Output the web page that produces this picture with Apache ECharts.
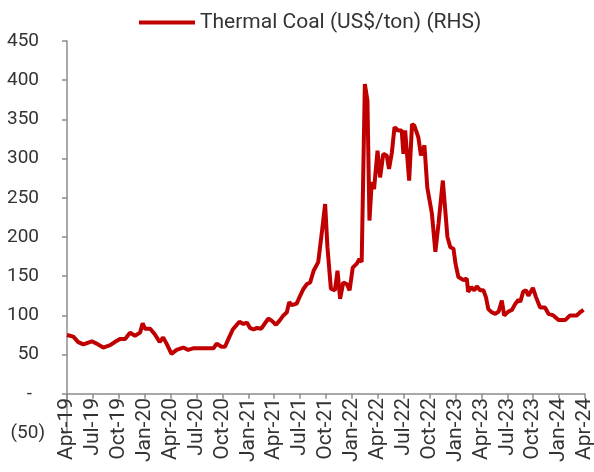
<!DOCTYPE html>
<html>
<head>
<meta charset="utf-8">
<script src="https://cdn.jsdelivr.net/npm/echarts@6/dist/echarts.min.js"></script>
<style>
  html, body { margin: 0; padding: 0; background: #fff; }
  #chart { width: 594px; height: 472px; }
</style>
</head>
<body>
<div id="chart"></div>
<script>
// weekly-ish readings of thermal coal price (US$/ton)
const dates = [
  '2019-04-01', '2019-04-23', '2019-05-10', '2019-05-28', '2019-06-27', '2019-07-14', '2019-08-07', '2019-08-31',
  '2019-09-17', '2019-10-05', '2019-10-23', '2019-11-10', '2019-11-27', '2019-12-15', '2019-12-24', '2020-01-02',
  '2020-01-20', '2020-02-06', '2020-02-23', '2020-03-05', '2020-03-17', '2020-04-04', '2020-04-22', '2020-05-15',
  '2020-06-02', '2020-06-19', '2020-08-30', '2020-09-11', '2020-09-28', '2020-10-10', '2020-10-22', '2020-11-07',
  '2020-11-30', '2020-12-14', '2020-12-26', '2021-01-07', '2021-01-19', '2021-01-31', '2021-02-16', '2021-02-27',
  '2021-03-11', '2021-03-23', '2021-04-07', '2021-04-21', '2021-05-03', '2021-05-15', '2021-05-23', '2021-06-02',
  '2021-06-19', '2021-07-01', '2021-07-13', '2021-07-25', '2021-08-06', '2021-08-18', '2021-09-04', '2021-09-16',
  '2021-09-28', '2021-10-06', '2021-10-18', '2021-11-02', '2021-11-11', '2021-11-20', '2021-12-01', '2021-12-13',
  '2021-12-23', '2022-01-04', '2022-01-18', '2022-01-27', '2022-02-05', '2022-02-16', '2022-02-25', '2022-03-02',
  '2022-03-10', '2022-03-18', '2022-03-30', '2022-04-09', '2022-04-20', '2022-05-02', '2022-05-10', '2022-05-20',
  '2022-05-29', '2022-06-12', '2022-06-24', '2022-06-30', '2022-07-06', '2022-07-20', '2022-07-30', '2022-08-08',
  '2022-08-22', '2022-08-31', '2022-09-13', '2022-09-23', '2022-10-09', '2022-10-21', '2022-11-02', '2022-11-17',
  '2022-12-03', '2022-12-13', '2022-12-24', '2022-12-31', '2023-01-11', '2023-01-29', '2023-02-10', '2023-02-15',
  '2023-02-26', '2023-03-06', '2023-03-15', '2023-03-27', '2023-04-08', '2023-04-17', '2023-04-25', '2023-05-07',
  '2023-05-19', '2023-05-31', '2023-06-12', '2023-06-20', '2023-07-05', '2023-07-17', '2023-07-29', '2023-08-10',
  '2023-08-16', '2023-08-26', '2023-09-06', '2023-09-14', '2023-09-30', '2023-10-11', '2023-10-25', '2023-11-12',
  '2023-11-24', '2023-12-11', '2023-12-29', '2024-01-22', '2024-02-09', '2024-03-02', '2024-03-14', '2024-03-26'
]
const coalPrice = [
  75, 73, 66, 63, 67, 64, 59, 62,
  66, 70, 70, 78, 74, 78, 90, 83,
  83, 76, 66, 72, 64, 51, 56, 59,
  56, 58, 58, 64, 60, 60, 70, 82,
  92, 89, 91, 84, 82, 84, 83, 89,
  96, 93, 88, 94, 100, 104, 117, 113,
  115, 125, 134, 140, 142, 157, 168, 204,
  242, 187, 134, 132, 157, 121, 142, 140,
  132, 161, 166, 172, 168, 395, 374, 221,
  270, 261, 310, 276, 306, 304, 287, 308,
  340, 336, 336, 306, 336, 272, 344, 342,
  327, 304, 317, 263, 230, 181, 217, 272,
  200, 187, 185, 166, 149, 145, 147, 130,
  136, 132, 137, 132, 132, 123, 108, 104,
  102, 105, 119, 100, 105, 107, 115, 120,
  117, 130, 132, 125, 135, 123, 110, 110,
  102, 100, 94, 94, 100, 100, 104, 107
]
// quarterly tick labels, one every 3 months from Apr-19
const tickLabels = [
  'Apr-19', 'Jul-19', 'Oct-19', 'Jan-20', 'Apr-20', 'Jul-20', 'Oct-20', 'Jan-21', 'Apr-21', 'Jul-21', 'Oct-21',
  'Jan-22', 'Apr-22', 'Jul-22', 'Oct-22', 'Jan-23', 'Apr-23', 'Jul-23', 'Oct-23', 'Jan-24', 'Apr-24'
]

// months elapsed since 2019-04-01
function monthOffset(d) {
  const [y, m, day] = d.split('-').map(Number)
  return (y - 2019) * 12 + (m - 4) + (day - 1) / 30
}

const seriesData = dates.map((d, i) => [monthOffset(d), coalPrice[i]])
const font = 'Roboto, "Liberation Sans", sans-serif'

const chart = echarts.init(document.getElementById('chart'))
chart.setOption({
  animation: false,
  legend: {
    top: 7,
    left: 134,
    icon: 'rect',
    itemWidth: 56,
    itemHeight: 4,
    itemGap: 3,
    textStyle: { fontFamily: font, fontSize: 21, color: '#333' },
    data: ['Thermal Coal (US$/ton) (RHS)']
  },
  grid: { left: 67, right: 9, top: 41, bottom: 39, outerBoundsMode: 'none', containLabel: false },
  xAxis: {
    type: 'value',
    min: 0,
    max: 60,
    interval: 3,
    axisLine: { onZero: true, lineStyle: { color: '#8c8c8c', width: 1.5 } },
    axisTick: { show: true, length: 5, lineStyle: { color: '#8c8c8c', width: 1.5 } },
    splitLine: { show: false },
    axisLabel: {
      rotate: 90,
      margin: -35,
      fontFamily: font,
      fontSize: 21,
      color: '#333',
      formatter: (v) => tickLabels[Math.round(v / 3)]
    }
  },
  yAxis: {
    type: 'value',
    min: -50,
    max: 450,
    interval: 50,
    axisLine: { show: true, lineStyle: { color: '#8c8c8c', width: 1.5 } },
    axisTick: { show: true, length: 5, lineStyle: { color: '#8c8c8c', width: 1.5 } },
    splitLine: { show: false },
    axisLabel: {
      margin: 22,
      fontFamily: font,
      fontSize: 19,
      color: '#333',
      formatter: (v) => {
        if (v < 0) return '(' + (-v) + ')'
        if (v === 0) return '{z|-}'
        return '{p|' + v + '}'
      },
      rich: {
        p: { fontFamily: font, fontSize: 19, color: '#333', padding: [0, 6, 0, 0] },
        z: { fontFamily: font, fontSize: 19, color: '#333', padding: [0, 13, 0, 0] }
      }
    }
  },
  series: [
    {
      name: 'Thermal Coal (US$/ton) (RHS)',
      type: 'line',
      data: seriesData,
      showSymbol: false,
      symbol: 'none',
      color: '#c00000',
      lineStyle: { color: '#c00000', width: 4 }
    }
  ]
})
</script>
</body>
</html>
